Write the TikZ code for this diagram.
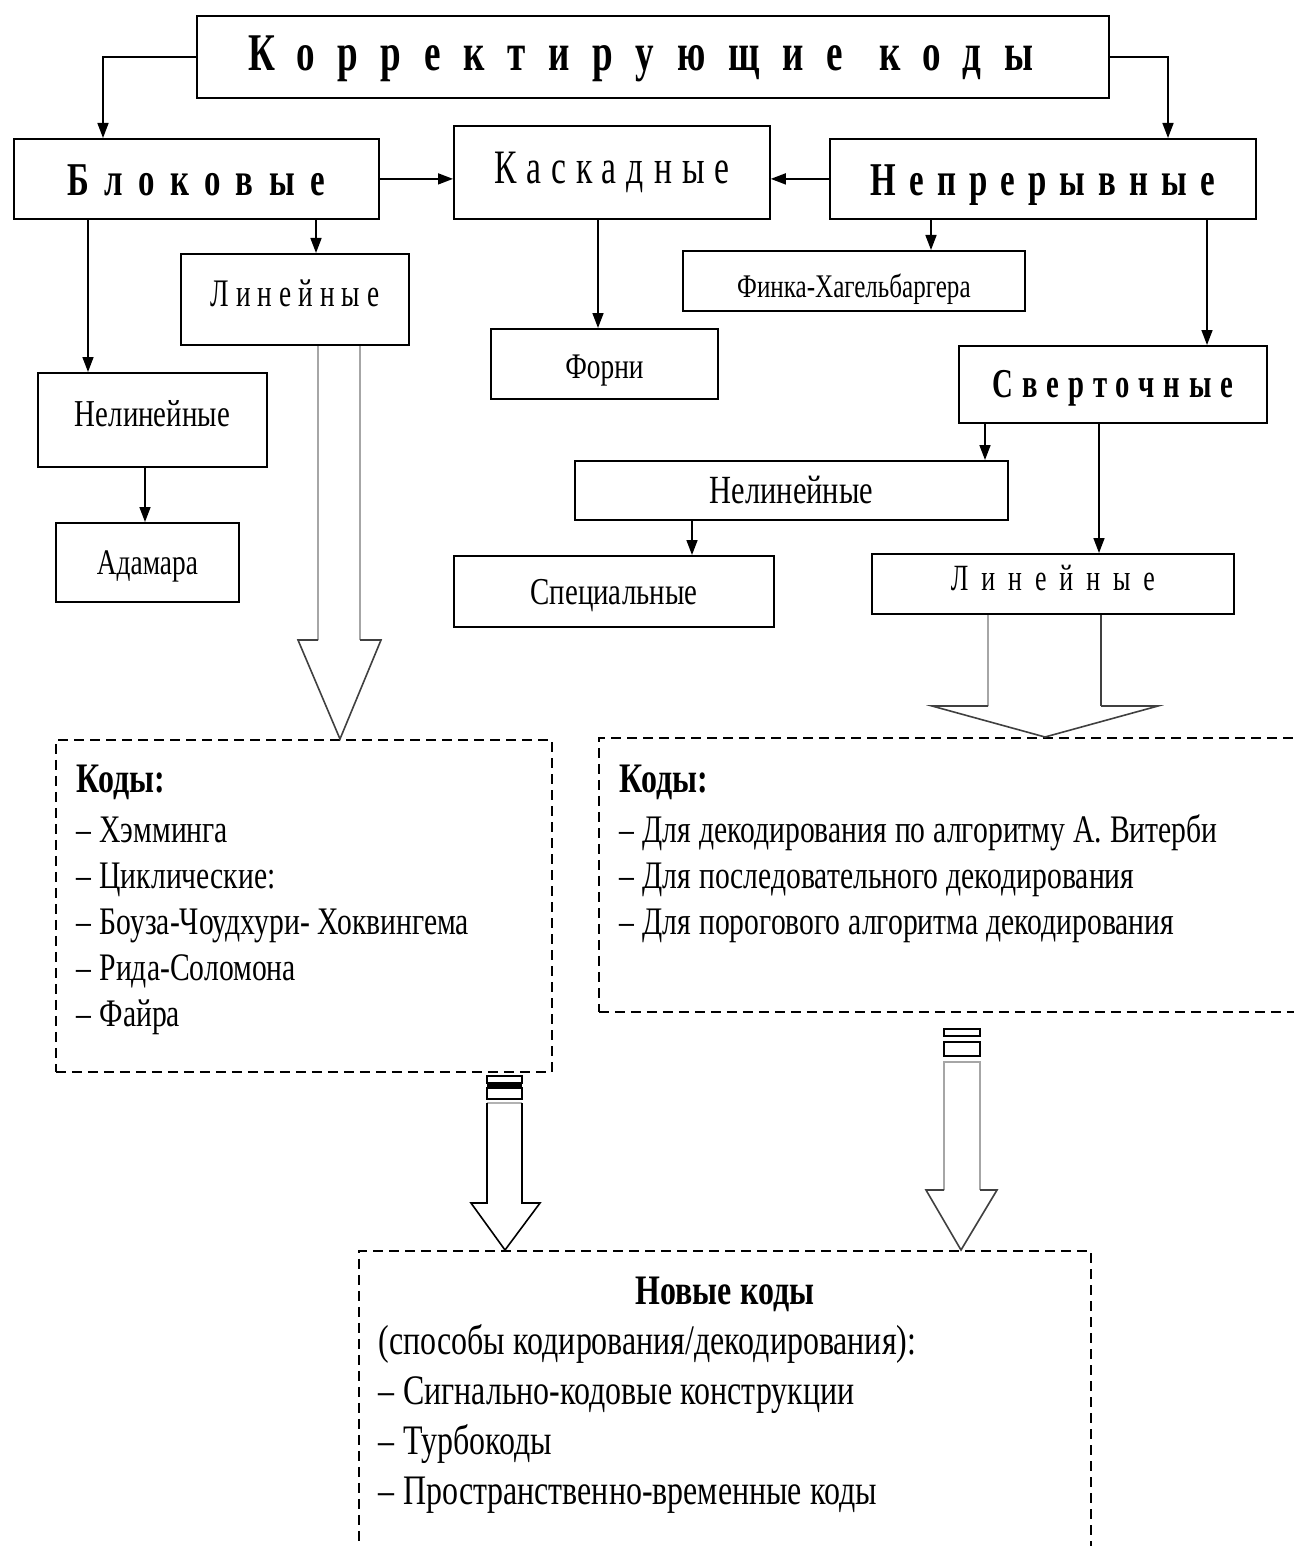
\documentclass[tikz,border=0pt]{standalone}
\usepackage{fontspec}
\setmainfont{Liberation Serif}
\newfontfamily\narrowfont{Liberation Serif}[FakeStretch=0.76]
\newfontfamily\titlefont{Liberation Serif}[FakeStretch=0.7]
\usetikzlibrary{arrows.meta,positioning,calc}

\newcommand\spacedtext[2]{{\addfontfeature{LetterSpace=#1}#2}}
\newcommand\fsz[1]{\fontsize{#1}{#1}\selectfont}

\tikzset{
  frame/.style={draw, line width=1.8pt, inner sep=0pt, anchor=north west},
  dashframe/.style={draw, line width=1.6pt, dash pattern=on 10pt off 6pt,
    inner xsep=21pt, inner ysep=0pt, anchor=north west, align=left,
    font=\narrowfont\fontsize{39}{46}\selectfont},
  conn/.style={-{Triangle[length=15pt,width=11pt]}, line width=1.6pt},
  shaft/.style={line width=1.6pt, gray!70},
  head/.style={line width=1.6pt, black!75},
}

\begin{document}
\begin{tikzpicture}[x=1pt, y=-1pt]
  \useasboundingbox (0,0) rectangle (1293,1546);

  % Top box
  \node[frame, minimum width=912pt, text height=55pt, text depth=27pt] (codes) at (196,15)
    {\titlefont\bfseries\fsz{53}\spacedtext{43}{Корректирующие}\hspace{36pt}\spacedtext{43}{коды}\kern24pt};

  % Second row
  \node[frame, minimum width=365pt, text height=57pt, text depth=23pt] (block) at (13,138)
    {\titlefont\bfseries\fsz{47}\spacedtext{33}{Блоковые}};
  \node[frame, minimum width=316pt, text height=58pt, text depth=35pt] (casc) at (453,125)
    {\titlefont\fsz{48}\spacedtext{21}{Каскадные}};
  \node[frame, minimum width=426pt, text height=57pt, text depth=23pt] (cont) at (829,138)
    {\titlefont\bfseries\fsz{47}\spacedtext{28}{Непрерывные}};

  % Block codes
  \node[frame, minimum width=228pt, text height=53pt, text depth=38pt] (linA) at (180,253)
    {\titlefont\fsz{39}\spacedtext{18}{Линейные}};
  \node[frame, minimum width=229pt, text height=54pt, text depth=40pt] (nonlinA) at (37,372)
    {\narrowfont\fsz{38}Нелинейные};
  \node[frame, minimum width=183pt, text height=52pt, text depth=27pt] (hadam) at (55,522)
    {\narrowfont\fsz{36}Адамара};

  % Concatenated codes
  \node[frame, minimum width=227pt, text height=50pt, text depth=20pt] (forney) at (490,328)
    {\narrowfont\fsz{36}Форни};

  % Continuous codes
  \node[frame, minimum width=342pt, text height=47pt, text depth=13pt] (fink) at (682,250)
    {\narrowfont\fsz{33}Финка-Хагельбаргера};
  \node[frame, minimum width=308pt, text height=52pt, text depth=25pt] (conv) at (958,345)
    {\titlefont\bfseries\fsz{41}\spacedtext{22}{Сверточные}};
  \node[frame, minimum width=433pt, text height=43pt, text depth=16pt] (nonlinB) at (574,460)
    {\narrowfont\fsz{40}Нелинейные};
  \node[frame, minimum width=362pt, text height=37pt, text depth=23pt] (linB) at (871,553)
    {\titlefont\fsz{37}\spacedtext{35}{Линейные}};
  \node[frame, minimum width=320pt, text height=49pt, text depth=22pt] (special) at (453,555)
    {\narrowfont\fsz{38}Специальные};

  % Code lists
  \node[dashframe, text width=454pt, text height=53pt, text depth=279pt] (listA) at (55,739)
    {\spaceskip=8pt\relax
     {\fontsize{42}{46}\selectfont\textbf{Коды:}}\\[4pt]
     – Хэмминга\\
     – Циклические:\\
     – Боуза-Чоудхури- Хоквингема\\
     – Рида-Соломона\\
     – Файра};
  \node[dashframe, text width=680pt, text height=55pt, text depth=219pt] (listB) at (598,737)
    {\spaceskip=8pt\relax
     {\fontsize{42}{46}\selectfont\textbf{Коды:}}\\[4pt]
     – Для декодирования по алгоритму А. Витерби\\
     – Для последовательного декодирования\\
     – Для порогового алгоритма декодирования};
  \node[dashframe, inner xsep=20pt, text width=692pt, text height=54pt, text depth=266pt,
        font=\narrowfont\fontsize{42}{50}\selectfont] (newc) at (358,1250)
    {\spaceskip=8.5pt\relax
     \makebox[\linewidth]{\textbf{Новые коды}}\\
     (способы кодирования/декодирования):\\
     – Сигнально-кодовые конструкции\\
     – Турбокоды\\
     – Пространственно-временные коды};

  % Connectors
  \draw[conn] (codes.west) -| (block.north -| 103,0);
  \draw[conn] (codes.east) -| (cont.north -| 1168,0);
  \draw[conn] (block.east) -- (casc.west |- block.east);
  \draw[conn] (cont.west) -- (casc.east |- cont.west);
  \draw[conn] (block.south -| 88,0) -- (nonlinA.north -| 88,0);
  \draw[conn] (block.south -| 316,0) -- (linA.north -| 316,0);
  \draw[conn] (nonlinA.south -| 145,0) -- (hadam.north -| 145,0);
  \draw[conn] (casc.south -| 598,0) -- (forney.north -| 598,0);
  \draw[conn] (cont.south -| 931,0) -- (fink.north -| 931,0);
  \draw[conn] (cont.south -| 1207,0) -- (conv.north -| 1207,0);
  \draw[conn] (conv.south -| 985,0) -- (nonlinB.north -| 985,0);
  \draw[conn] (conv.south -| 1099,0) -- (linB.north -| 1099,0);
  \draw[conn] (nonlinB.south -| 692,0) -- (special.north -| 692,0);

  % Hollow arrow: left linear -> list A
  \draw[shaft] (linA.south -| 318,0) -- (318,640);
  \draw[shaft] (linA.south -| 360,0) -- (360,640);
  \draw[head] (318,640) -- (298,640) -- (listA.north -| 340,0) -- (381,640) -- (360,640);

  % Hollow arrow: right linear -> list B
  \draw[shaft] (linB.south -| 988,0) -- (988,706);
  \draw[head] (linB.south -| 1101,0) -- (1101,706);
  \draw[head] (988,706) -- (932,706) -- (listB.north -| 1045,0) -- (1158,706) -- (1101,706);

  % Striped arrow: list A -> new codes
  \draw[line width=1.4pt] (487,1076) rectangle (522,1083);
  \fill (487,1083) rectangle (522,1088);
  \draw[line width=1.4pt] (487,1088) rectangle (522,1099);
  \draw[gray!60, line width=1.6pt] (487,1103) -- (522,1103);
  \draw[line width=1.6pt] (487,1103) -- (487,1203) -- (471,1203) -- (newc.north -| 505,0)
    -- (540,1203) -- (522,1203) -- (522,1103);

  % Striped arrow: list B -> new codes
  \draw[line width=1.4pt] (944,1029) rectangle (980,1036);
  \draw[line width=1.4pt] (944,1042) rectangle (980,1056);
  \draw[shaft] (944,1190) -- (944,1062) -- (980,1062) -- (980,1190);
  \draw[head] (944,1190) -- (926,1190) -- (newc.north -| 961,0) -- (997,1190) -- (980,1190);
\end{tikzpicture}
\end{document}
